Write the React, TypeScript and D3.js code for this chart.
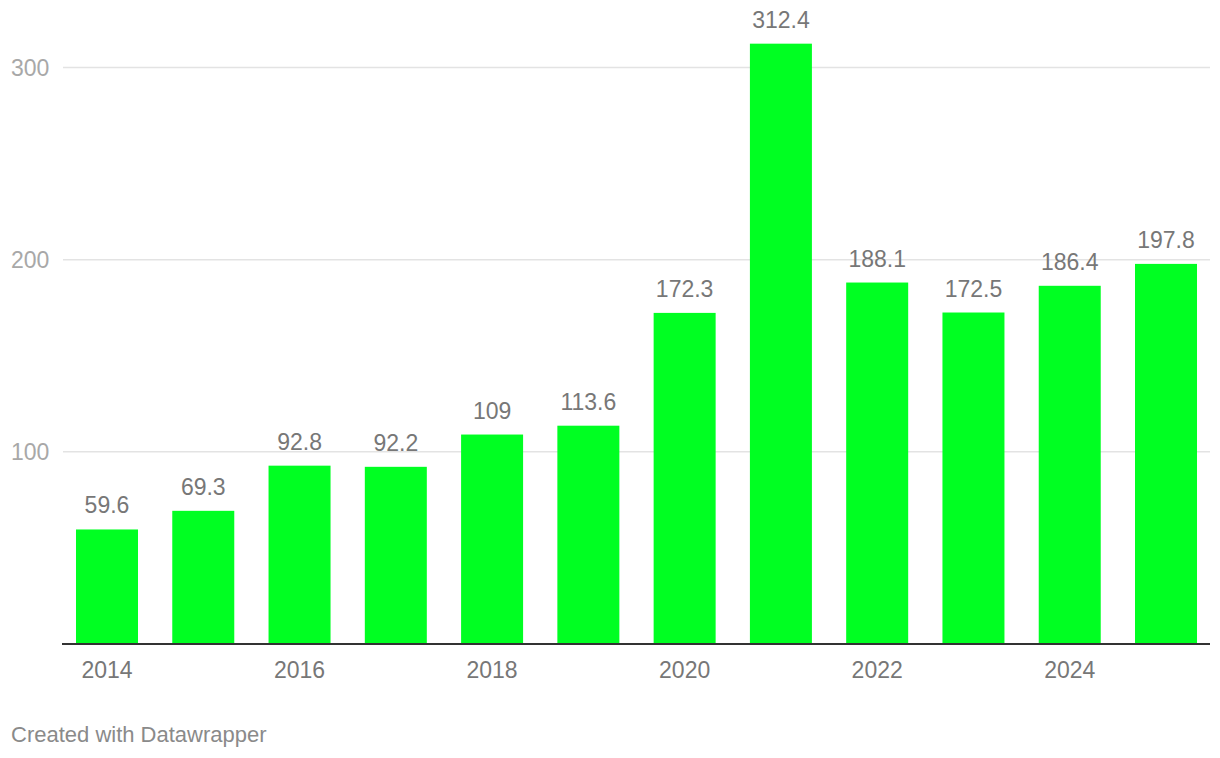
import React from "react";
import * as d3 from "d3";

const years = ["2014","2015","2016","2017","2018","2019","2020","2021","2022","2023","2024","2025"];
const values = [59.6, 69.3, 92.8, 92.2, 109, 113.6, 172.3, 312.4, 188.1, 172.5, 186.4, 197.8];
const valueLabels = ["59.6","69.3","92.8","92.2","109","113.6","172.3","312.4","188.1","172.5","186.4","197.8"];
const yTicks = [100, 200, 300];
const xTickLabels = ["2014","2016","2018","2020","2022","2024"];

const W = 1220, H = 758;
const FONT = "'Liberation Sans', Arial, Helvetica, sans-serif";

export default function App() {
  const x = d3.scaleBand<string>().domain(years).range([63, 1210]).paddingInner(0.356).paddingOuter(0.135);
  const y = d3.scaleLinear().domain([0, 300]).range([644, 67.5]);
  return (
    <svg width={W} height={H} style={{ position: "absolute", left: 0, top: 0, background: "#fff" }} fontFamily={FONT}>
      {yTicks.map(t => (
        <g key={t}>
          <line x1={63} x2={1210} y1={y(t)} y2={y(t)} stroke="#e3e3e3" strokeWidth={1.5} />
          <text x={11} y={y(t)} dy="0.36em" fontSize={23} fill="#a8a8a8">{t}</text>
        </g>
      ))}
      {years.map((yr, i) => (
        <g key={yr}>
          <rect x={x(yr)} y={y(values[i])} width={x.bandwidth()} height={y(0) - y(values[i])} fill="#00ff22" />
          <text x={(x(yr) as number) + x.bandwidth() / 2} y={y(values[i]) - 16} textAnchor="middle" fontSize={23} fill="#777">{valueLabels[i]}</text>
        </g>
      ))}
      <line x1={62} x2={1210} y1={y(0)} y2={y(0)} stroke="#333" strokeWidth={2} />
      {xTickLabels.map(l => (
        <text key={l} x={(x(l) as number) + x.bandwidth() / 2} y={678} textAnchor="middle" fontSize={23} fill="#777">{l}</text>
      ))}
      <text x={11} y={742} fontSize={22} fill="#8a8a8a">Created with Datawrapper</text>
    </svg>
  );
}
